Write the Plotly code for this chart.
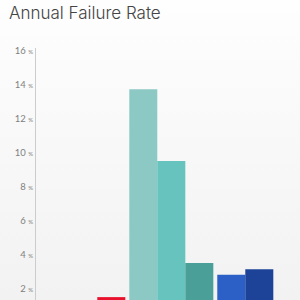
import base64
import plotly.graph_objects as go

# Data
groups = ["G1", "G2", "G3"]
series_first = [None, 13.72, 2.81]
series_second = [None, 9.51, 3.14]
series_third = [1.50, 3.51, None]
colors_first = ["#8CC9C5", "#8CC9C5", "#2C60C7"]
colors_second = ["#66C3BD", "#66C3BD", "#1C4397"]
colors_third = ["#E8112D", "#4A9F98", "#4A9F98"]
tick_values = [2, 4, 6, 8, 10, 12, 14, 16]
tick_labels = [f"{v} <span style='font-size:6px'>%</span>" for v in tick_values]

svg = ("<svg xmlns='http://www.w3.org/2000/svg' width='300' height='300'>"
       "<defs><linearGradient id='g' x1='0' y1='0' x2='0' y2='1'>"
       "<stop offset='0' stop-color='#ffffff'/><stop offset='1' stop-color='#f1f1f1'/>"
       "</linearGradient></defs><rect width='300' height='300' fill='url(#g)'/></svg>")
bg_src = "data:image/svg+xml;base64," + base64.b64encode(svg.encode()).decode()

fig = go.Figure()
for vals, cols in [(series_first, colors_first), (series_second, colors_second), (series_third, colors_third)]:
    fig.add_trace(go.Bar(x=groups, y=vals, marker=dict(color=cols, line=dict(width=0)),
                         showlegend=False, hoverinfo="skip"))

fig.update_layout(
    width=300, height=300,
    margin=dict(l=36, r=0, t=48, b=0, pad=0),
    barmode="group", bargap=0.045, bargroupgap=0,
    paper_bgcolor="rgba(0,0,0,0)", plot_bgcolor="rgba(0,0,0,0)",
    title=dict(text="Annual Failure Rate", x=0.03, xref="container", xanchor="left",
               y=0.958, yref="container", yanchor="middle",
               font=dict(family="Inter", size=17, color="#444444", weight=300)),
    images=[dict(source=bg_src, xref="paper", yref="paper", x=-0.2, y=1.3,
                 sizex=1.4, sizey=1.4, sizing="stretch", layer="below",
                 xanchor="left", yanchor="top")],
    xaxis=dict(range=[-0.5375, 2.4625], showticklabels=False, showgrid=False,
               zeroline=False, showline=False, ticks=""),
    yaxis=dict(range=[1.33, 16.15], tickvals=tick_values, ticktext=tick_labels,
               showgrid=False, zeroline=False, showline=True, linecolor="#cccccc",
               linewidth=1, ticks="", tickfont=dict(family="Lato", size=9.5, color="#7f7f7f")),
)
fig.write_html("out.html")
